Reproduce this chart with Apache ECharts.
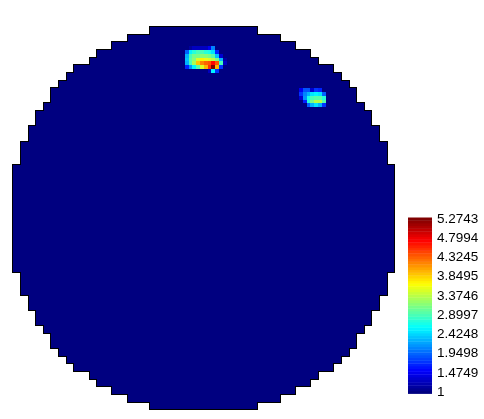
<!DOCTYPE html>
<html>
<head>
<meta charset="utf-8">
<script src="https://cdn.jsdelivr.net/npm/echarts@6/dist/echarts.min.js"></script>
<style>
  body { margin: 0; background: #fff; }
  #main { width: 484px; height: 419px; }
</style>
</head>
<body>
<div id="main"></div>
<script>
  // disk mask on a 50x50 cell grid: first and last+1 column of every row
  const rowStart = [18,15,13,11,10,8,7,6,5,5,4,3,3,2,2,1,1,1,
    0,0,0,0,0,0,0,0,0,0,0,0,0,0,
    1,1,1,2,2,3,3,4,5,5,6,7,8,10,11,13,15,18];
  const rowEnd = [32,35,37,39,40,42,43,44,45,45,46,47,47,48,48,49,49,49,
    50,50,50,50,50,50,50,50,50,50,50,50,50,50,
    49,49,49,48,48,47,47,46,45,45,44,43,42,40,39,37,35,32];
  const baseValue = 1;

  // hot spots, on a grid twice as fine (100x100), origin = [col, row]
  const hotAOrigin = [45, 5];
  const hotA = [
    [1, 1.2, 1.3, 1.3, 1.3, 1.3, 1.5, 2.1, 1, 1, 1],
    [2.0, 2.6, 2.8, 2.9, 2.9, 2.8, 2.7, 2.5, 1.7, 1, 1],
    [2.3, 2.9, 3.1, 3.1, 3.2, 3.2, 3.1, 3.0, 2.4, 1.4, 1],
    [2.4, 3.0, 3.2, 3.5, 3.7, 3.6, 3.5, 3.4, 3.1, 2.3, 1.2],
    [2.3, 2.9, 3.3, 3.9, 4.2, 4.3, 4.4, 4.7, 4.4, 2.9, 1.3],
    [1.7, 2.2, 2.6, 3.0, 3.5, 4.0, 4.5, 5.2743, 4.0, 1.8, 1],
    [1, 1, 1, 1, 1, 1, 1.3, 2.6, 1.8, 1, 1]
  ];
  const hotBOrigin = [75, 16];
  const hotB = [
    [1.5, 1.9, 1.9, 1.4, 1.8, 1.7, 1, 1],
    [1.8, 2.1, 2.3, 2.5, 2.6, 2.5, 2.0, 1],
    [1.4, 2.2, 2.7, 2.9, 3.0, 3.0, 2.8, 1],
    [1, 1.7, 2.8, 3.1, 3.4, 3.4, 3.0, 1],
    [1, 1, 2.0, 2.3, 2.5, 2.3, 1.8, 1]
  ];

  // colour bar
  const cMin = 1;
  const cMax = 5.2743;
  const tickValues = [1, 1.4749, 1.9498, 2.4248, 2.8997, 3.3746, 3.8495, 4.3245, 4.7994, 5.2743];
  const tickLabels = ['1', '1.4749', '1.9498', '2.4248', '2.8997', '3.3746', '3.8495', '4.3245', '4.7994', '5.2743'];

  const nColors = 64;

  // octave style jet
  function jet(i) {
    let x = i / (nColors - 1);
    let r = (x >= 3/8 && x < 5/8) ? 4*x - 1.5 : (x >= 5/8 && x < 7/8) ? 1 : (x >= 7/8) ? -4*x + 4.5 : 0;
    let g = (x >= 1/8 && x < 3/8) ? 4*x - 0.5 : (x >= 3/8 && x < 5/8) ? 1 : (x >= 5/8 && x < 7/8) ? -4*x + 3.5 : 0;
    let b = (x < 1/8) ? 4*x + 0.5 : (x >= 1/8 && x < 3/8) ? 1 : (x >= 3/8 && x < 5/8) ? -4*x + 2.5 : 0;
    return 'rgb(' + Math.round(r*255) + ',' + Math.round(g*255) + ',' + Math.round(b*255) + ')';
  }
  const colors = [];
  for (let i = 0; i < nColors; i++) colors.push(jet(i));

  function colorOf(v) {
    let idx = Math.floor((v - cMin) / (cMax - cMin) * nColors);
    idx = Math.max(0, Math.min(nColors - 1, idx));
    return colors[idx];
  }

  let diskCells = [];
  let rows = [];
  for (let r = 0; r < rowStart.length; r++) {
    rows.push([rowStart[r], r, rowEnd[r]]);
    for (let c = rowStart[r]; c < rowEnd[r]; c++) diskCells.push([c, r, baseValue]);
  }
  let hotCells = [];
  [[hotAOrigin, hotA], [hotBOrigin, hotB]].forEach(([o, m]) => {
    m.forEach((row, j) => {
      row.forEach((v, i) => {
        hotCells.push([(o[0] + i) / 2, (o[1] + j) / 2, v]);
      });
    });
  });
  const bin = (cMax - cMin) / (nColors - 1);
  let barCells = [];
  for (let i = 0; i < nColors; i++) barCells.push([0, cMin + i * bin, i]);

  function cellItem(size) {
    return function (params, api) {
      let p = api.coord([api.value(0), api.value(1)]);
      let q = api.coord([api.value(0) + size, api.value(1) + size]);
      let x0 = Math.round(p[0]), y0 = Math.round(p[1]);
      return {
        type: 'rect',
        shape: {x: x0, y: y0, width: Math.round(q[0]) - x0, height: Math.round(q[1]) - y0},
        style: {fill: colorOf(api.value(2))}
      };
    };
  }

  let chart = echarts.init(document.getElementById('main'));
  let option = {
    backgroundColor: '#fff',
    animation: false,
    grid: [
      {left: 13.3, top: 27, width: 381, height: 382.3},
      {left: 408, top: 217.5, width: 24, height: 176}
    ],
    xAxis: [
      {type: 'value', gridIndex: 0, min: 0, max: 50, show: false},
      {type: 'value', gridIndex: 1, min: 0, max: 1, show: false}
    ],
    yAxis: [
      {type: 'value', gridIndex: 0, min: 0, max: 50, inverse: true, show: false},
      {
        type: 'value', gridIndex: 1, position: 'right',
        min: cMin - bin / 2, max: cMax + bin / 2,
        axisLine: {show: false},
        splitLine: {show: false},
        axisTick: {show: true, customValues: tickValues, length: 2, lineStyle: {color: '#000'}},
        axisLabel: {
          customValues: tickValues,
          margin: 5,
          color: '#000',
          fontSize: 13.5,
          fontFamily: 'Liberation Sans',
          formatter: function (v) {
            let best = 0;
            tickValues.forEach((t, i) => {
              if (Math.abs(t - v) < Math.abs(tickValues[best] - v)) best = i;
            });
            return tickLabels[best];
          }
        }
      }
    ],
    series: [
      {
        // black edge round the disk
        type: 'custom', xAxisIndex: 0, yAxisIndex: 0, progressive: 0,
        data: rows,
        renderItem: function (params, api) {
          let p = api.coord([api.value(0), api.value(1)]);
          let q = api.coord([api.value(2), api.value(1) + 1]);
          let x0 = Math.round(p[0]) - 1, y0 = Math.round(p[1]) - 1;
          return {
            type: 'rect',
            shape: {x: x0, y: y0, width: Math.round(q[0]) + 1 - x0, height: Math.round(q[1]) + 1 - y0},
            style: {fill: '#000'}
          };
        }
      },
      {
        type: 'custom', xAxisIndex: 0, yAxisIndex: 0, progressive: 0,
        data: diskCells,
        renderItem: cellItem(1)
      },
      {
        type: 'custom', xAxisIndex: 0, yAxisIndex: 0, progressive: 0,
        data: hotCells,
        renderItem: cellItem(0.5)
      },
      {
        type: 'custom', xAxisIndex: 1, yAxisIndex: 1, progressive: 0,
        data: barCells,
        renderItem: function (params, api) {
          let p = api.coord([0, api.value(1) + bin / 2]);
          let q = api.coord([1, api.value(1) - bin / 2]);
          return {
            type: 'rect',
            shape: {x: p[0], y: p[1], width: q[0] - p[0], height: q[1] - p[1] + 0.4},
            style: {fill: colors[api.value(2)]}
          };
        }
      }
    ]
  };
  chart.setOption(option);
</script>
</body>
</html>
